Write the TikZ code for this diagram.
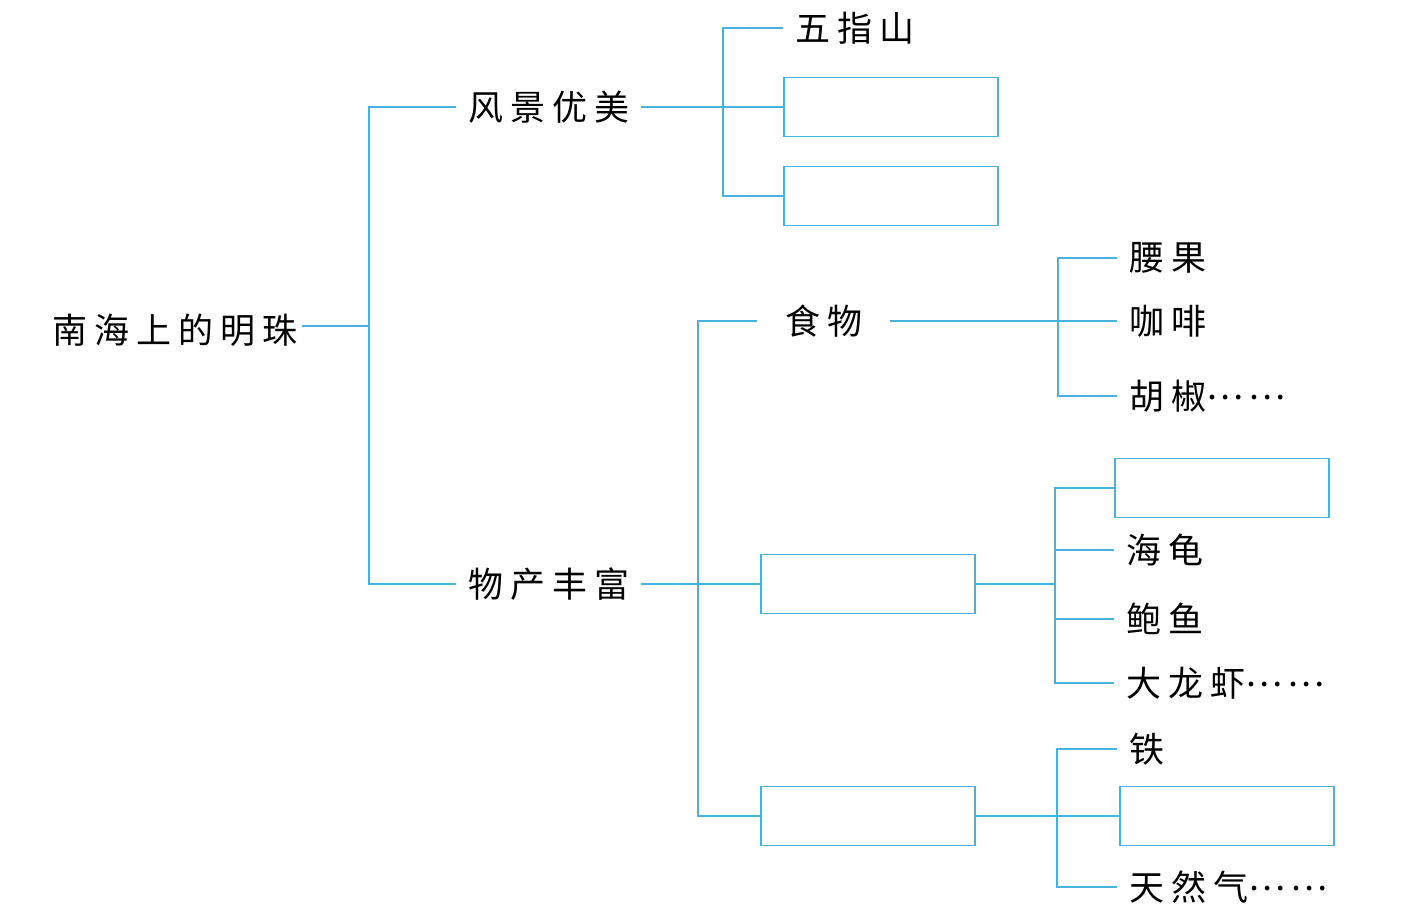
\documentclass[tikz,border=0pt]{standalone}
\usepackage{fontspec}
\newfontfamily\cjk[LetterSpace=20]{Noto Sans CJK SC}
\newfontfamily\cjkdots[LetterSpace=15]{Noto Sans CJK SC}
\definecolor{treeline}{RGB}{72,178,222}
\newcommand{\middots}{\raisebox{0.27em}{\cjkdots ……}}
\tikzstyle{word} = [anchor=west, inner xsep=12pt, inner ysep=0pt,
    font=\cjk\fontsize{35}{40}\selectfont]
\tikzstyle{blank} = [rectangle, draw=treeline, line width=1.5pt, anchor=west,
    inner sep=0pt, minimum width=214pt, minimum height=59pt]
\tikzstyle{line} = [draw=treeline, line width=1.6pt]

\begin{document}
\begin{tikzpicture}[x=1pt, y=-1pt]
                \useasboundingbox (0,0) rectangle (1421,905);
                \node [word, inner xsep=5pt] at (47,330) (root) {南海上的明珠};
                \node [word] at (456,107) (fengjing) {风景优美};
                \node [word] at (456,584) (wuchan) {物产丰富};
                \node [word] at (783,28) (wuzhi) {五指山};
                \node [blank] at (783,107) (view1) {};
                \node [blank] at (783,196) (view2) {};
                \node [word, inner xsep=28pt] at (757,321) (shiwu) {食物};
                \node [blank] at (760,584) (sea) {};
                \node [blank] at (760,816) (mine) {};
                \node [word] at (1117,258) (yaoguo) {腰果};
                \node [word] at (1117,321) (kafei) {咖啡};
                \node [word] at (1117,396) (hujiao) {胡椒\middots};
                \node [blank] at (1114,488) (sea1) {};
                \node [word] at (1114,550) (haigui) {海龟};
                \node [word] at (1114,619) (baoyu) {鲍鱼};
                \node [word] at (1114,683) (longxia) {大龙虾\middots};
                \node [word] at (1117,749) (tie) {铁};
                \node [blank] at (1119,816) (mine1) {};
                \node [word] at (1117,887) (tianranqi) {天然气\middots};
                \coordinate (j1) at (369,326);
                \coordinate (j2) at (723,107);
                \coordinate (j3) at (698,584);
                \coordinate (j4) at (1058,321);
                \coordinate (j5) at (1055,584);
                \coordinate (j6) at (1057,816);
                \path [line] (root.east |- j1) -- (j1);
                \path [line] (fengjing.west) -| (j1) |- (wuchan.west);
                \path [line] (fengjing.east) -- (view1.west);
                \path [line] (wuzhi.west) -| (j2) |- (view2.west);
                \path [line] (wuchan.east) -- (sea.west);
                \path [line] (shiwu.west) -| (j3) |- (mine.west);
                \path [line] (shiwu.east) -- (kafei.west);
                \path [line] (yaoguo.west) -| (j4) |- (hujiao.west);
                \path [line] (sea.east) -- (j5);
                \path [line] (sea1.west) -| (j5) |- (longxia.west);
                \path [line] (haigui.west) -- (haigui.west -| j5);
                \path [line] (baoyu.west) -- (baoyu.west -| j5);
                \path [line] (mine.east) -- (mine1.west);
                \path [line] (tie.west) -| (j6) |- (tianranqi.west);
            \end{tikzpicture}
\end{document}
